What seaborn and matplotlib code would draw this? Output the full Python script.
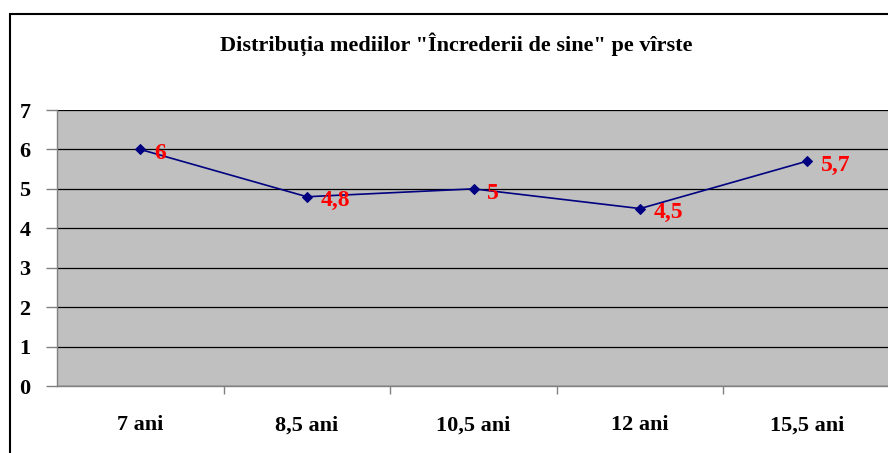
import matplotlib
matplotlib.use("Agg")
import matplotlib.pyplot as plt
import seaborn as sns
import pandas as pd
from matplotlib.patches import Rectangle

categories = ["7 ani", "8,5 ani", "10,5 ani", "12 ani", "15,5 ani"]
values = [6, 4.8, 5, 4.5, 5.7]
labels = ["6", "4,8", "5", "4,5", "5,7"]
title = "Distribuția mediilor \"Încrederii de sine\" pe vîrste"

sns.set_theme(style="white")
plt.rcParams['font.family'] = ['Liberation Serif', 'DejaVu Serif']
plt.rcParams['text.color'] = 'black'
plt.rcParams['xtick.labelcolor'] = 'black'
plt.rcParams['ytick.labelcolor'] = 'black'

fig = plt.figure(figsize=(8.88, 4.53), dpi=100)
W, H = 888, 453
ax = fig.add_axes([57 / W, 1 - 386 / H, (890 - 57) / W, (386 - 110) / H])

df = pd.DataFrame({"cat": categories, "val": values})
sns.lineplot(data=df, x="cat", y="val", ax=ax, color="#000080", lw=1.2,
             marker="D", markersize=5.5, markeredgecolor="#000080", sort=False)

ax.set_facecolor("#C0C0C0")
ax.set_xlim(-0.5, len(categories) - 0.5)
ax.set_ylim(0, 7)
ax.set_yticks(range(0, 8))
ax.yaxis.grid(True, color="black", lw=0.9)
ax.set_axisbelow(True)
ax.set_xlabel("")
ax.set_ylabel("")

ax.set_xticks([i + 0.5 for i in range(len(categories) - 1)], minor=False)
ax.set_xticklabels([])
ax.set_xticks(range(len(categories)), minor=True)
ax.set_xticklabels(categories, minor=True, fontsize=16, fontweight="bold", color="black")
ax.tick_params(axis="x", which="major", length=6, width=1, color="#808080", direction="out", bottom=True)
ax.tick_params(axis="x", which="minor", length=0, pad=21, labelcolor="black")
ax.tick_params(axis="y", length=8, width=1, color="#808080", direction="out", left=True,
               labelsize=16, pad=11, labelcolor="black")
for t in ax.get_yticklabels():
    t.set_fontweight("bold")

for s in ["top", "right"]:
    ax.spines[s].set_visible(False)
ax.spines["left"].set_color("#808080")
ax.spines["bottom"].set_color("#808080")
ax.spines["left"].set_linewidth(1)
ax.spines["bottom"].set_linewidth(1)

for i, (v, lab) in enumerate(zip(values, labels)):
    ax.annotate(lab, (i, v), xytext=(10, -3), textcoords="offset points",
                color="red", fontsize=17, fontweight="bold", va="center", ha="left")

fig.text(456 / W, 1 - 44 / H, title, ha="center", va="center",
         fontsize=16, fontweight="bold", color="black")

fig.patches.append(Rectangle((10 / W, -0.1), 1.2, 1 - 14 / H + 0.1,
                             transform=fig.transFigure, fill=False,
                             edgecolor="black", lw=1.5))

fig.savefig("out.png", dpi=100)
